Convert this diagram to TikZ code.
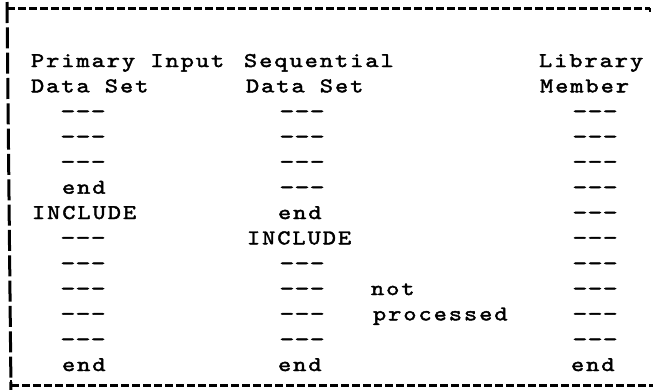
\documentclass[tikz,border=0pt]{standalone}
\usepackage{fontspec}
\newfontfamily\typew[Extension=.otf,FakeStretch=1.2,LetterSpace=9.5,FakeBold=2]{lmmono10-regular}
% wider hyphens on the same 15.2bp typing pitch
\newfontfamily\typedash[Extension=.otf,FakeStretch=1.35,LetterSpace=1.5,FakeBold=2.5]{lmmono10-regular}
\begin{document}
\begin{tikzpicture}[x=1bp,y=-1bp,
  txt/.style={anchor=base west,inner sep=0pt,outer sep=0pt,
              font=\typew\fontsize{21}{25}\selectfont},
  dsh/.style={anchor=base west,inner sep=0pt,outer sep=0pt,
              font=\typedash\fontsize{21}{25}\selectfont},
  hrule/.style={line width=3bp,dash pattern=on 8bp off 3bp},
  vrule/.style={line width=3bp,dash pattern=on 21bp off 4.33bp}]
\useasboundingbox (0,0) rectangle (653,389);

% frame made of typed rules
\coordinate (tl) at (7,8);
\coordinate (tr) at (650,8);
\coordinate (bl) at (11,385);
\coordinate (br) at (653,385);
\draw[hrule] (tl) -- (tr);
\draw[line width=2.6bp] (tl) -- ++(0,6);
\draw[line width=1.8bp] (tr) -- ++(0,4);
\draw[vrule] ([yshift=6bp]tl) -- ([yshift=-6bp]bl);
\draw[hrule] (bl) -- (br);
\draw[line width=2.6bp] (bl) -- ++(0,-5);

% left column: primary input
\node[txt] (p1)  at (31,67)     {Primary Input};
\node[txt] (p2)  at (31,92.3)   {Data Set};
\node[dsh] (p3)  at (60.5,117.7)  {-{}-{}-};
\node[dsh] (p4)  at (60.5,143)    {-{}-{}-};
\node[dsh] (p5)  at (60.5,168.3)  {-{}-{}-};
\node[txt] (p6)  at (62,193.7)  {end};
\node[txt] (p7)  at (32,219)    {INCLUDE};
\node[dsh] (p8)  at (60.5,244.3)  {-{}-{}-};
\node[dsh] (p9)  at (60.5,269.7)  {-{}-{}-};
\node[dsh] (p10) at (60.5,295)    {-{}-{}-};
\node[dsh] (p11) at (60.5,320.3)  {-{}-{}-};
\node[dsh] (p12) at (60.5,345.7)  {-{}-{}-};
\node[txt] (p13) at (62,371)    {end};

% middle column: sequential data set
\node[txt] (s1)  at (244,67)     {Sequential};
\node[txt] (s2)  at (246,92.3)   {Data Set};
\node[dsh] (s3)  at (279.5,117.7)  {-{}-{}-};
\node[dsh] (s4)  at (279.5,143)    {-{}-{}-};
\node[dsh] (s5)  at (279.5,168.3)  {-{}-{}-};
\node[dsh] (s6)  at (279.5,193.7)  {-{}-{}-};
\node[txt] (s7)  at (278,219)    {end};
\node[txt] (s8)  at (247,244.3)  {INCLUDE};
\node[dsh] (s9)  at (279.5,269.7)  {-{}-{}-};
\node[dsh] (s10) at (279.5,295)    {-{}-{}-};
\node[dsh] (s11) at (279.5,320.3)  {-{}-{}-};
\node[dsh] (s12) at (279.5,345.7)  {-{}-{}-};
\node[txt] (s13) at (278,371)    {end};

\node[txt] (n1) at (371,295)   {not};
\node[txt] (n2) at (373,320.3) {processed};

% right column: library member
\node[txt] (l1)  at (539,67)     {Library};
\node[txt] (l2)  at (540,92.3)   {Member};
\foreach \i/\y in {3/117.7,4/143,5/168.3,6/193.7,7/219,8/244.3,9/269.7,10/295,11/320.3,12/345.7}
  \node[dsh] (l\i) at (572.5,\y) {-{}-{}-};
\node[txt] (l13) at (571,371)    {end};
\end{tikzpicture}
\end{document}
